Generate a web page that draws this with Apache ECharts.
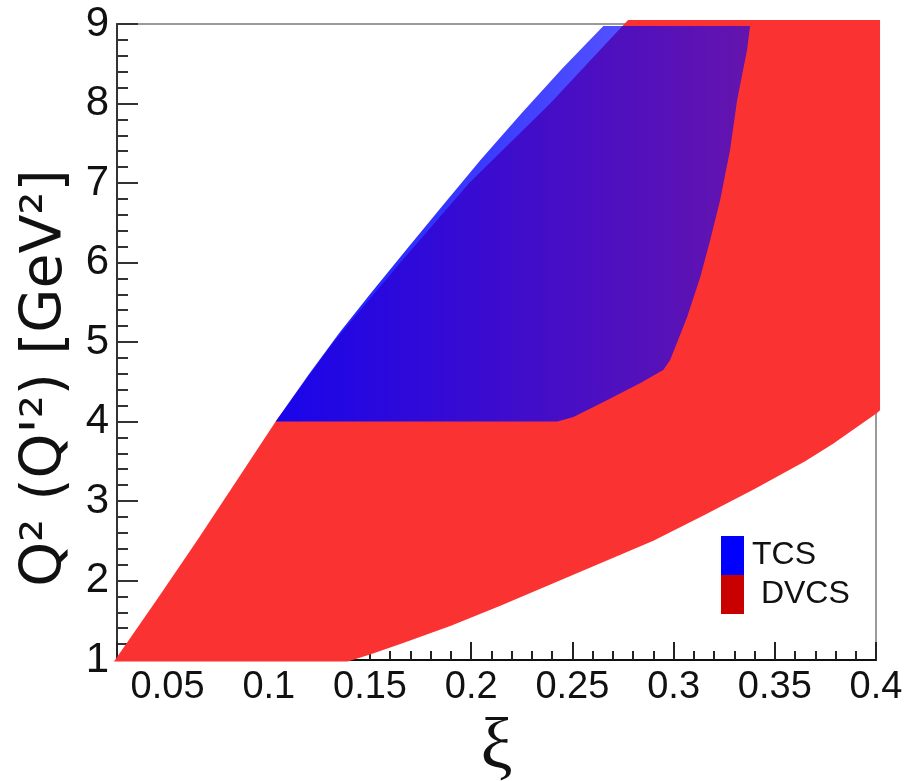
<!DOCTYPE html>
<html><head><meta charset="utf-8">
<script src="https://cdn.jsdelivr.net/npm/echarts@6/dist/echarts.min.js"></script>
<style>html,body{margin:0;padding:0;background:#fff}#c{width:905px;height:781px}</style>
</head><body><div id="c"></div>
<script>
// DVCS kinematic region boundary (xi, Q2)
const dvcsXi = [0.0235, 0.045, 0.065, 0.085, 0.1034, 0.132, 0.165, 0.199, 0.239, 0.2775, 0.402, 0.402, 0.4005, 0.3788, 0.365, 0.34, 0.315, 0.29, 0.265, 0.24, 0.215, 0.19, 0.165, 0.15, 0.139];
const dvcsQ2 = [0.98, 1.77, 2.52, 3.29, 4.0, 5.0, 6.0, 7.0, 8.0, 9.05, 9.05, 4.14, 4.107, 3.72, 3.5, 3.15, 2.82, 2.5, 2.23, 1.96, 1.69, 1.43, 1.2, 1.07, 0.98];
// TCS kinematic region boundary (xi, Q'2)
const tcsXi = [0.1034, 0.12, 0.135, 0.15, 0.1666, 0.185, 0.2046, 0.225, 0.245, 0.2653, 0.3378, 0.3363, 0.3314, 0.3279, 0.3230, 0.3181, 0.3132, 0.3067, 0.2983, 0.2949, 0.2836, 0.2673, 0.2505, 0.2426];
const tcsQ2 = [4.0, 4.6, 5.12, 5.6, 6.12, 6.69, 7.29, 7.88, 8.44, 8.975, 8.975, 8.673, 8.044, 7.415, 6.786, 6.283, 5.818, 5.314, 4.774, 4.648, 4.484, 4.270, 4.057, 4.0];
const seriesNames = ['TCS', 'DVCS'];

const chart = echarts.init(document.getElementById('c'), null, {renderer: 'canvas'});

function polySeries(name, xs, ys, fill, z) {
  return {
    type: 'custom', name: name, z: z, clip: false, silent: true,
    coordinateSystem: 'cartesian2d',
    data: xs.map((x, i) => [x, ys[i]]),
    encode: {x: 0, y: 1},
    renderItem: function (params, api) {
      if (params.dataIndex !== 0) return null;
      const pts = xs.map((x, i) => api.coord([x, ys[i]]));
      return {type: 'polygon', shape: {points: pts}, style: {fill: fill}};
    }
  };
}

const blueFill = new echarts.graphic.LinearGradient(0, 0, 1, 0, [
  {offset: 0, color: 'rgba(0,0,255,0.9)'},
  {offset: 1, color: 'rgba(0,0,255,0.6)'}
]);

const axisFont = 'Liberation Sans';
chart.setOption({
  animation: false,
  backgroundColor: '#fff',
  grid: {left: 117, right: 29, top: 24, bottom: 121, containLabel: false, outerBoundsMode: 'none',
    show: true, borderColor: '#9a9a9a', borderWidth: 2, backgroundColor: 'transparent'},
  legend: {
    orient: 'vertical', left: 716, top: 531, itemWidth: 23, itemHeight: 39, itemGap: 0,
    icon: 'rect', selectedMode: false,
    formatter: n => n === 'DVCS' ? ' DVCS' : n,
    textStyle: {fontFamily: 'Liberation Sans', fontSize: 32, color: '#111', padding: [0, 0, 0, 3]},
    data: [
      {name: seriesNames[0], itemStyle: {color: '#0000ff'}},
      {name: seriesNames[1], itemStyle: {color: '#c80000'}}
    ]
  },
  xAxis: {
    type: 'value', min: 0.025, max: 0.4, splitNumber: 7,
    name: 'ξ', nameLocation: 'middle', nameGap: 53,
    nameTextStyle: {fontFamily: 'Liberation Serif', fontSize: 72, color: '#111'},
    axisLine: {show: true, lineStyle: {color: '#111', width: 2}},
    axisTick: {show: true, inside: true, length: 18, lineStyle: {color: '#222', width: 2}},
    minorTick: {show: true, splitNumber: 5, length: 9, lineStyle: {color: '#222', width: 2}},
    splitLine: {show: false},
    axisLabel: {showMinLabel: false, fontFamily: axisFont, fontSize: 38, color: '#111', margin: 9,
      formatter: v => String(+v.toFixed(3))}
  },
  yAxis: {
    type: 'value', min: 1, max: 9, interval: 1,
    name: 'Q² (Q\'²) [GeV²]', nameLocation: 'middle', nameGap: 42,
    nameTextStyle: {fontFamily: 'DejaVu Sans', fontSize: 57, color: '#111', padding: [0, 72, 0, 0]},
    axisLine: {show: true, lineStyle: {color: '#333', width: 2}},
    axisTick: {show: true, inside: true, length: 21, lineStyle: {color: '#333', width: 2}},
    minorTick: {show: true, splitNumber: 5, length: 11, lineStyle: {color: '#333', width: 2}},
    splitLine: {show: false},
    axisLabel: {fontFamily: axisFont, fontSize: 42, color: '#111', margin: 8}
  },
  series: [
    polySeries(seriesNames[1], dvcsXi, dvcsQ2, '#fb3232', 2),
    polySeries(seriesNames[0], tcsXi, tcsQ2, blueFill, 3)
  ]
});
</script>
</body></html>
